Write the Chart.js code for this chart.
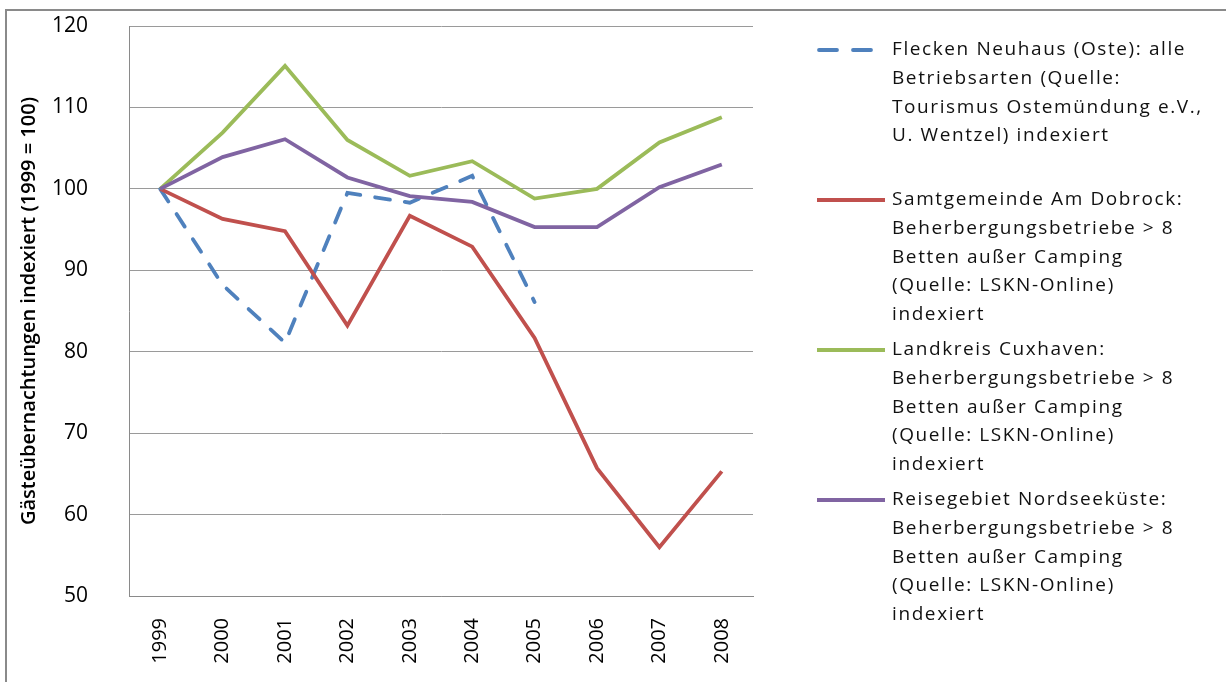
<!DOCTYPE html>
<html>
<head>
<meta charset="utf-8">
<script src="https://cdn.jsdelivr.net/npm/chart.js@4/dist/chart.umd.min.js"></script>
<style>
  body { margin: 0; background: #fff; }
  #wrap { width: 1226px; height: 682px; position: relative; }
</style>
</head>
<body>
<div id="wrap"><canvas id="chart"></canvas></div>
<script>
// Categories (years)
const years = ["1999", "2000", "2001", "2002", "2003", "2004", "2005", "2006", "2007", "2008"];

// Series values, index 1999 = 100
const fleckenNeuhaus = [100, 88.2, 81.1, 99.5, 98.3, 101.6, 86.1, null, null, null];
const samtgemeinde = [100, 96.3, 94.8, 83.2, 96.7, 92.9, 81.7, 65.7, 56.0, 65.3];
const landkreis = [100, 106.9, 115.1, 106.0, 101.6, 103.4, 98.8, 100.0, 105.7, 108.8];
const reisegebiet = [100, 103.9, 106.1, 101.4, 99.1, 98.4, 95.3, 95.3, 100.2, 103.0];

// Legend labels, one array of lines per series
const labelFlecken = ["Flecken Neuhaus (Oste): alle", "Betriebsarten (Quelle:", "Tourismus Ostemündung e.V.,", "U. Wentzel) indexiert"];
const labelSamtgemeinde = ["Samtgemeinde Am Dobrock:", "Beherbergungsbetriebe > 8", "Betten außer Camping", "(Quelle: LSKN-Online)", "indexiert"];
const labelLandkreis = ["Landkreis Cuxhaven:", "Beherbergungsbetriebe > 8", "Betten außer Camping", "(Quelle: LSKN-Online)", "indexiert"];
const labelReisegebiet = ["Reisegebiet Nordseeküste:", "Beherbergungsbetriebe > 8", "Betten außer Camping", "(Quelle: LSKN-Online)", "indexiert"];

// Y axis ticks
const yMin = 50;
const yMax = 120;
const yStep = 10;

const yTitle = "Gästeübernachtungen indexiert (1999 = 100)";

const fontFamily = "'Open Sans', sans-serif";

// outer frame around the whole chart
const framePlugin = {
  id: 'frame',
  beforeDraw(chart) {
    const ctx = chart.ctx;
    ctx.save();
    ctx.strokeStyle = '#8a8a8a';
    ctx.lineWidth = 2;
    ctx.strokeRect(6, 10, 1300, 800);
    ctx.restore();
  }
};

// legend on the right, multi-line labels
const sideLegend = {
  id: 'sideLegend',
  afterDraw(chart) {
    const ctx = chart.ctx;
    ctx.save();
    chart.data.datasets.forEach((ds, i) => {
      const y0 = 50 + i * 150;
      ctx.strokeStyle = ds.borderColor;
      ctx.lineWidth = ds.borderWidth;
      ctx.lineCap = ds.borderDash ? 'round' : 'butt';
      ctx.setLineDash(ds.borderDash ? [18, 16] : []);
      ctx.beginPath();
      ctx.moveTo(ds.borderDash ? 819 : 817, y0);
      ctx.lineTo(885, y0);
      ctx.stroke();
      ctx.setLineDash([]);
      ctx.fillStyle = '#111';
      ctx.font = "19px " + fontFamily;
      ctx.letterSpacing = '1.6px';
      ctx.textBaseline = 'middle';
      ctx.textAlign = 'left';
      ds.legendLines.forEach((line, k) => {
        ctx.fillText(line, 892, y0 + k * 28.6);
      });
      ctx.letterSpacing = '0px';
    });
    ctx.restore();
  }
};

function makeSeries(data, color, lines, order, dash) {
  const ds = {
    data: data,
    borderColor: color,
    backgroundColor: color,
    borderWidth: 3.8,
    pointRadius: 0,
    pointHoverRadius: 0,
    tension: 0,
    fill: false,
    spanGaps: false,
    order: order,
    legendLines: lines
  };
  if (dash) {
    ds.borderDash = dash;
    ds.borderCapStyle = 'round';
  }
  return ds;
}

new Chart(document.getElementById('chart'), {
  type: 'line',
  data: {
    labels: years,
    datasets: [
      makeSeries(fleckenNeuhaus, '#4F81BD', labelFlecken, 4, [15, 15]),
      makeSeries(samtgemeinde, '#C0504D', labelSamtgemeinde, 3),
      makeSeries(landkreis, '#9BBB59', labelLandkreis, 2),
      makeSeries(reisegebiet, '#8064A2', labelReisegebiet, 1)
    ]
  },
  options: {
    responsive: true,
    maintainAspectRatio: false,
    animation: false,
    events: [],
    layout: { padding: { left: 0, top: 26, right: 473, bottom: 0 } },
    plugins: {
      legend: { display: false },
      tooltip: { enabled: false }
    },
    scales: {
      x: {
        offset: true,
        grid: { display: false, drawTicks: false, offset: true },
        border: { display: true, color: '#8a8a8a', width: 1 },
        ticks: {
          minRotation: 90,
          maxRotation: 90,
          padding: 22,
          color: '#000',
          font: { family: fontFamily, size: 20 }
        },
        afterFit(scale) { scale.height = 86; }
      },
      y: {
        min: yMin,
        max: yMax,
        grid: { color: '#9a9a9a', lineWidth: 1, drawTicks: false },
        border: { display: true, color: '#8a8a8a', width: 1 },
        ticks: {
          stepSize: yStep,
          padding: 41,
          color: '#000',
          font: { family: fontFamily, size: 21 }
        },
        title: {
          display: true,
          text: yTitle,
          color: '#000',
          padding: { top: 17, bottom: 0 },
          font: { family: fontFamily, size: 20, weight: '600' }
        },
        afterFit(scale) {
          scale.width = 129;
          // tick padding should not push the plot area down
          scale.paddingTop = 12;
          scale.paddingBottom = 12;
        }
      }
    }
  },
  plugins: [framePlugin, sideLegend]
});
</script>
</body>
</html>
